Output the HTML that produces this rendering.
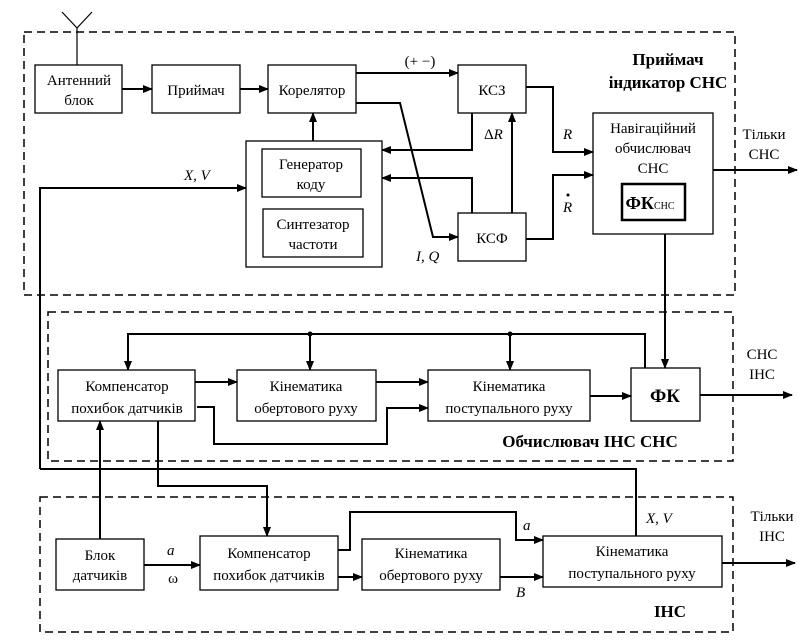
<!DOCTYPE html>
<html><head><meta charset="utf-8"><style>
html,body{margin:0;padding:0;background:#fff;width:799px;height:640px;overflow:hidden}
svg text{font-family:"Liberation Serif",serif;fill:#000}
</style></head><body>
<svg width="799" height="640" viewBox="0 0 799 640" xmlns="http://www.w3.org/2000/svg">
<defs><marker id="a" markerWidth="10" markerHeight="8" refX="9" refY="4" orient="auto" markerUnits="userSpaceOnUse"><path d="M0,0 L10,4 L0,8 Z" fill="#000"/></marker></defs>
<g fill="none" stroke="#000" stroke-width="1.5" stroke-dasharray="8,5">
<rect x="24" y="32" width="711" height="263"/>
<rect x="48" y="312" width="685" height="149"/>
<rect x="40" y="497" width="693" height="135"/>
</g>
<g fill="#fff" stroke="#000" stroke-width="1.3">
<rect x="35" y="65" width="87" height="48"/>
<rect x="152" y="65" width="88" height="48"/>
<rect x="268" y="65" width="88" height="48"/>
<rect x="458" y="65" width="68" height="48"/>
<rect x="246" y="141" width="136" height="126"/>
<rect x="262" y="149" width="99" height="48"/>
<rect x="263" y="209" width="100" height="48"/>
<rect x="458" y="213" width="68" height="48"/>
<rect x="593" y="113" width="120" height="121"/>
<rect x="622" y="184" width="63" height="36" stroke-width="2.5"/>
<rect x="58" y="370" width="137" height="51"/>
<rect x="237" y="370" width="139" height="51"/>
<rect x="428" y="370" width="162" height="51"/>
<rect x="631" y="368" width="69" height="53"/>
<rect x="56" y="539" width="88" height="51"/>
<rect x="200" y="536" width="138" height="54"/>
<rect x="362" y="539" width="138" height="51"/>
<rect x="543" y="536" width="179" height="51"/>
</g>
<g fill="none" stroke="#000" stroke-width="2">
<path d="M77,65 V28 M77,28 L62,12 M77,28 L92,12" stroke-width="1.2"/>
<path d="M122,89 H152" marker-end="url(#a)"/>
<path d="M240,89 H268" marker-end="url(#a)"/>
<path d="M356,73 H458" marker-end="url(#a)"/>
<path d="M356,103 H400 L433,237 H458" marker-end="url(#a)"/>
<path d="M313,141 V113" marker-end="url(#a)"/>
<path d="M472,113 V150 H382" marker-end="url(#a)"/>
<path d="M472,213 V178 H382" marker-end="url(#a)"/>
<path d="M512,213 V113" marker-end="url(#a)"/>
<path d="M526,87 H553 V152 H593" marker-end="url(#a)"/>
<path d="M526,239 H553 V175 H593" marker-end="url(#a)"/>
<path d="M713,170 H797" marker-end="url(#a)"/>
<path d="M665,234 V368" marker-end="url(#a)"/>
<path d="M40,469 V188 H246" marker-end="url(#a)"/>
<path d="M40,469 H636 V536"/>
<path d="M645,368 V334 H128 V370" marker-end="url(#a)"/>
<path d="M310,334 V370" marker-end="url(#a)"/>
<path d="M510,334 V370" marker-end="url(#a)"/>
<path d="M195,382 H237" marker-end="url(#a)"/>
<path d="M376,382 H428" marker-end="url(#a)"/>
<path d="M590,396 H631" marker-end="url(#a)"/>
<path d="M197,407 H214 V444 H387 V408 H428" marker-end="url(#a)"/>
<path d="M700,395 H792" marker-end="url(#a)"/>
<path d="M100,539 V421" marker-end="url(#a)"/>
<path d="M158,421 V486 H267 V536" marker-end="url(#a)"/>
<path d="M144,565 H200" marker-end="url(#a)"/>
<path d="M338,577 H362" marker-end="url(#a)"/>
<path d="M500,577 H543" marker-end="url(#a)"/>
<path d="M338,550 H350 V512 H516 V540 H543" marker-end="url(#a)"/>
<path d="M722,563 H795" marker-end="url(#a)"/>
</g>
<circle cx="310" cy="334" r="2.5"/><circle cx="510" cy="334" r="2.5"/>
<g font-size="15" text-anchor="middle">
<text x="79" y="85">Антенний</text><text x="79" y="105">блок</text>
<text x="196" y="95">Приймач</text>
<text x="312" y="95">Корелятор</text>
<text x="492" y="95">КСЗ</text>
<text x="311" y="169">Генератор</text><text x="311" y="189">коду</text>
<text x="313" y="229">Синтезатор</text><text x="313" y="249">частоти</text>
<text x="492" y="243">КСФ</text>
<text x="653" y="133">Навігаційний</text><text x="653" y="153">обчислювач</text><text x="653" y="173">СНС</text>
<text x="764" y="139">Тільки</text><text x="764" y="159">СНС</text>
<text x="127" y="391">Компенсатор</text><text x="127" y="413">похибок датчиків</text>
<text x="306" y="391">Кінематика</text><text x="306" y="413">обертового руху</text>
<text x="509" y="391">Кінематика</text><text x="509" y="413">поступального руху</text>
<text x="762" y="359">СНС</text><text x="762" y="379">ІНС</text>
<text x="100" y="560">Блок</text><text x="100" y="580">датчиків</text>
<text x="269" y="558">Компенсатор</text><text x="269" y="580">похибок датчиків</text>
<text x="431" y="558">Кінематика</text><text x="431" y="580">обертового руху</text>
<text x="632" y="556">Кінематика</text><text x="632" y="578">поступального руху</text>
<text x="772" y="521">Тільки</text><text x="772" y="541">ІНС</text>
<text x="420" y="66">(+ −)</text>
<text x="173" y="583">ω</text>
</g>
<g font-size="15" font-style="italic">
<text x="184" y="180">X,  V</text>
<text x="416" y="261">I,  Q</text>
<text x="484" y="139"><tspan font-style="normal">Δ</tspan>R</text>
<text x="563" y="139">R</text>
<text x="563" y="212">R</text>
<text x="646" y="523">X,  V</text>
<text x="167" y="555">a</text>
<text x="523" y="530">a</text>
<text x="516" y="597">B</text>
</g>
<circle cx="568" cy="195" r="1.5"/>
<g font-weight="bold" text-anchor="middle">
<text x="668" y="65" font-size="17">Приймач</text>
<text x="668" y="88" font-size="17">індикатор СНС</text>
<text x="650" y="209" font-size="18">ФК<tspan font-size="10" font-weight="normal">СНС</tspan></text>
<text x="665" y="402" font-size="19">ФК</text>
<text x="590" y="447" font-size="17">Обчислювач ІНС СНС</text>
<text x="670" y="617" font-size="17">ІНС</text>
</g>
</svg>
</body></html>
